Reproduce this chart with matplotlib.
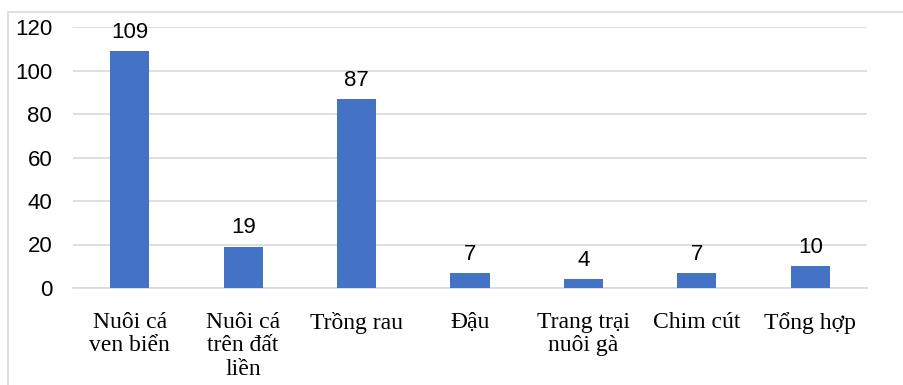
import matplotlib
matplotlib.use("Agg")
import matplotlib.pyplot as plt
from matplotlib.patches import Rectangle

categories = ["Nuôi cá\nven biển", "Nuôi cá\ntrên đất\nliền", "Trồng rau", "Đậu",
              "Trang trại\nnuôi gà", "Chim cút", "Tổng hợp"]
values = [109, 19, 87, 7, 4, 7, 10]
yticks = [0, 20, 40, 60, 80, 100, 120]

fig = plt.figure(figsize=(9.04, 3.85), dpi=100)
fig.patches.append(Rectangle((8/904, -0.05), 1.0, 0.969 + 0.05, transform=fig.transFigure,
                             fill=False, edgecolor="#D9D9D9", linewidth=1.2))
ax = fig.add_axes([73/904, 1 - 288/385, (867 - 73)/904, (288 - 27)/385])

x = list(range(len(categories)))
ax.bar(x, values, width=0.345, color="#4472C4", zorder=3)
for xi, v in zip(x, values):
    ax.annotate(str(v), (xi, v), xytext=(0, 9.5), textcoords="offset points",
                ha="center", va="baseline", fontsize=16,
                family="Liberation Sans", color="#000000")

ax.set_xlim(-0.5, len(categories) - 0.5)
ax.set_ylim(0, 120)
ax.set_yticks(yticks)
ax.set_yticklabels([str(t) for t in yticks], family="Liberation Sans", fontsize=16)
ax.set_xticks(x)
ax.set_xticklabels(categories, family="Liberation Serif", fontsize=17, linespacing=1.17)
ax.tick_params(axis="both", length=0)
ax.tick_params(axis="x", pad=17)
ax.tick_params(axis="y", pad=15)
ax.grid(axis="y", color="#D9D9D9", linewidth=1.2, zorder=0)
for s in ["top", "right", "left"]:
    ax.spines[s].set_visible(False)
ax.spines["bottom"].set_color("#D9D9D9")
ax.spines["bottom"].set_linewidth(1.2)

fig.savefig("out.png", dpi=100)
